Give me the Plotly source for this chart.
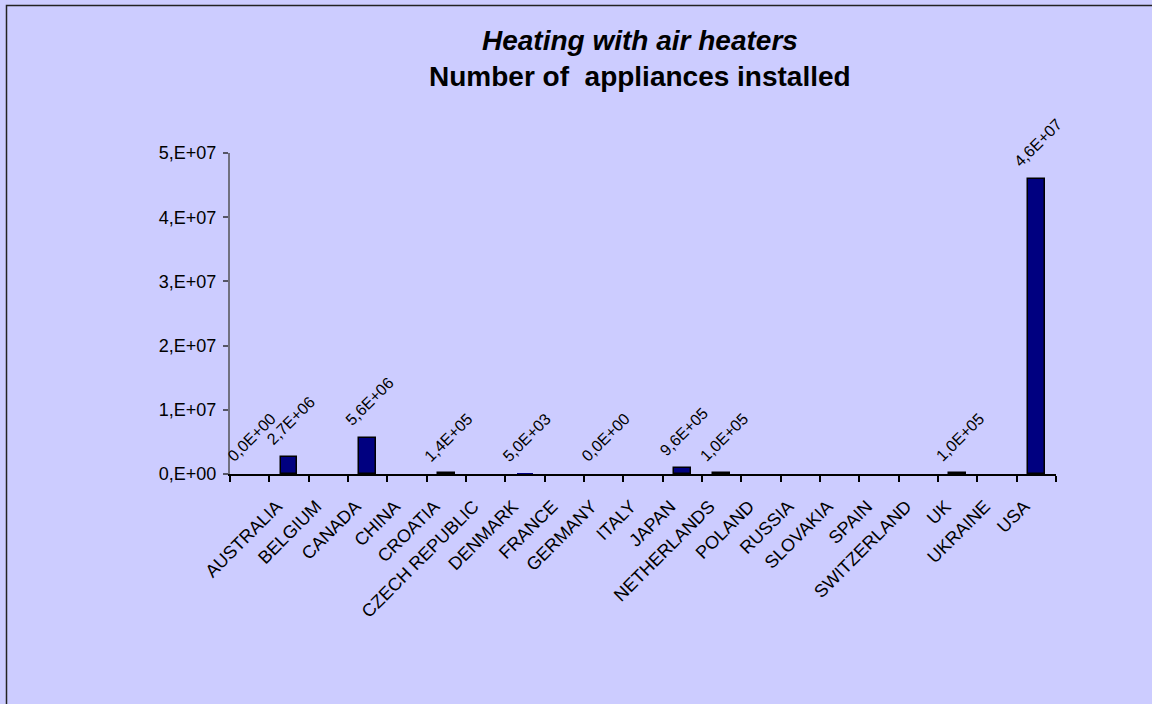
import plotly.graph_objects as go

# Installed air-heater appliances per country (first slot is unnamed)
countries = ["", "AUSTRALIA", "BELGIUM", "CANADA", "CHINA", "CROATIA",
             "CZECH REPUBLIC", "DENMARK", "FRANCE", "GERMANY", "ITALY",
             "JAPAN", "NETHERLANDS", "POLAND", "RUSSIA", "SLOVAKIA", "SPAIN",
             "SWITZERLAND", "UK", "UKRAINE", "USA"]
appliances = [0, 2.7e6, None, 5.6e6, None, 1.4e5, None, 5.0e3, None, 0.0, None,
              9.6e5, 1.0e5, None, None, None, None, None, 1.0e5, None, 4.6e7]
y_tick_values = [0, 1e7, 2e7, 3e7, 4e7, 5e7]
y_tick_labels = ["0,E+00", "1,E+07", "2,E+07", "3,E+07", "4,E+07", "5,E+07"]

FONT = "Arial, Liberation Sans, sans-serif"
BG = "#CCCCFF"

W, H = 1152, 704
L, R, T, B = 230, 96, 153, 230
PW, PH = W - L - R, H - T - B
Y_MAX = 5e7

positions = list(range(len(countries)))


def sci_label(v):
    return f"{v:.1E}".replace(".", ",")


# bars too short to rise off the axis are drawn without an outline
outline_widths = [1.5 if (v or 0) / Y_MAX * PH >= 0.5 else 0 for v in appliances]

fig = go.Figure()
fig.add_trace(go.Bar(
    x=positions, y=appliances, width=0.42,
    marker=dict(color="#000080",
                line=dict(color="#000000", width=outline_widths)),
    hoverinfo="skip", showlegend=False,
))

annotations = []
for xi, v in zip(positions, appliances):
    if v is None:
        continue
    annotations.append(dict(
        x=xi, y=v, xref="x", yref="y", text=sci_label(v), showarrow=False,
        textangle=-45, xanchor="center", yanchor="bottom", yshift=6, xshift=2,
        font=dict(family=FONT, size=16, color="#000000"),
    ))


def px_to_paper_x(px):
    return (px - L) / PW


def px_to_paper_y(py):
    return (H - B - py) / PH


annotations.append(dict(
    x=px_to_paper_x(640), y=px_to_paper_y(41), xref="paper", yref="paper",
    text="<b><i>Heating with air heaters</i></b>", showarrow=False,
    xanchor="center", yanchor="middle",
    font=dict(family=FONT, size=28, color="#000000"),
))
annotations.append(dict(
    x=px_to_paper_x(640), y=px_to_paper_y(76), xref="paper", yref="paper",
    text="<b>Number of\u00a0 appliances installed</b>", showarrow=False,
    xanchor="center", yanchor="middle",
    font=dict(family=FONT, size=28, color="#000000"),
))

# outer chart border (runs off the right and bottom of the page)
shapes = [dict(
    type="rect", xref="paper", yref="paper",
    x0=px_to_paper_x(6.5), x1=px_to_paper_x(W + 50),
    y0=px_to_paper_y(H + 50), y1=px_to_paper_y(5.5),
    line=dict(color="#222222", width=1.5), fillcolor="rgba(0,0,0,0)",
    layer="above",
)]

fig.update_layout(
    width=W, height=H,
    margin=dict(l=L, r=R, t=T, b=B, pad=0),
    paper_bgcolor=BG, plot_bgcolor=BG,
    font=dict(family=FONT, size=18, color="#000000"),
    annotations=annotations, shapes=shapes, bargap=0,
)
fig.update_xaxes(
    range=[-0.5, len(countries) - 0.5],
    tickmode="array", tickvals=positions, ticktext=countries,
    ticks="", tickangle=-45, tickfont=dict(size=18),
    ticklabelstandoff=13, ticklabelshift=-12,
    showline=True, linecolor="#000000", linewidth=1.5,
    showgrid=False, zeroline=False,
    minor=dict(tickmode="array",
               tickvals=[p - 0.5 for p in positions] + [len(countries) - 0.5],
               ticks="outside", ticklen=6, tickwidth=1.5, tickcolor="#000000",
               showgrid=False),
)
fig.update_yaxes(
    range=[0, Y_MAX], tickmode="array", tickvals=y_tick_values,
    ticktext=y_tick_labels, ticks="outside", ticklen=5, tickwidth=1.5,
    tickcolor="#555566", tickfont=dict(size=18), ticklabelstandoff=3,
    showline=True, linecolor="#707080", linewidth=2,
    showgrid=False, zeroline=False,
)

fig.write_html("out.html")
